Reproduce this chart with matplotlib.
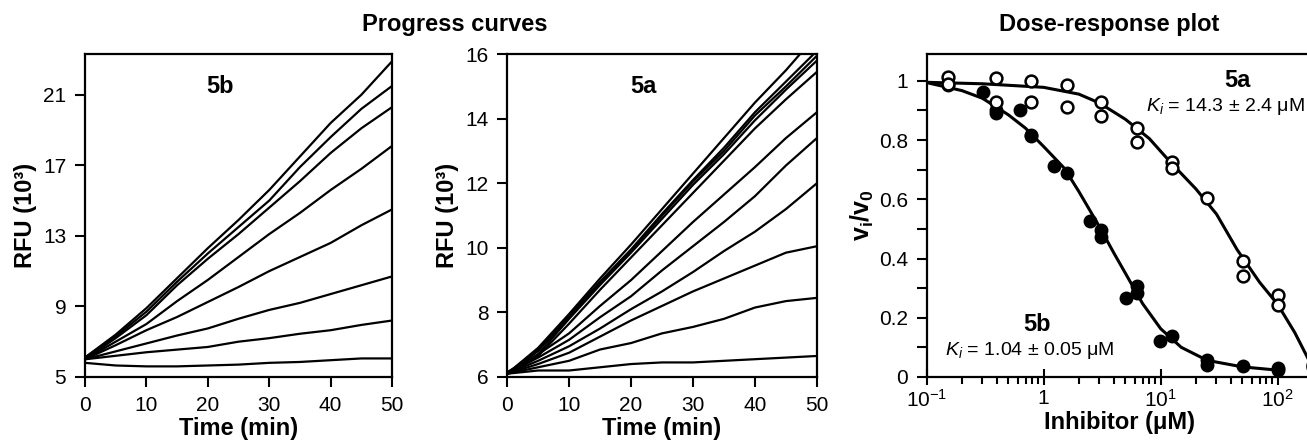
import matplotlib
matplotlib.use("Agg")
import matplotlib.pyplot as plt
from matplotlib.ticker import FixedLocator, FixedFormatter, MultipleLocator, LogLocator, NullFormatter

plt.rcParams['font.family'] = 'Liberation Sans'
plt.rcParams['mathtext.fontset'] = 'custom'
plt.rcParams['mathtext.rm'] = 'Liberation Sans'
plt.rcParams['mathtext.it'] = 'Liberation Sans:italic'
plt.rcParams['mathtext.bf'] = 'Liberation Sans:bold'

#Progress curves: time points (min)
time_min = [0, 5, 10, 15, 20, 25, 30, 35, 40, 45, 50]

#Compound 5b, RFU (10^3), one list per inhibitor concentration
rfu_5b = [
    [6.1, 7.4, 8.9, 10.6, 12.3, 13.9, 15.6, 17.5, 19.4, 21.0, 22.9],
    [6.1, 7.3, 8.7, 10.4, 12.0, 13.5, 15.0, 16.9, 18.6, 20.2, 21.5],
    [6.0, 7.2, 8.5, 10.2, 11.7, 13.1, 14.6, 16.1, 17.7, 19.1, 20.3],
    [6.0, 7.0, 8.0, 9.3, 10.5, 11.8, 13.1, 14.3, 15.6, 16.8, 18.1],
    [6.0, 6.8, 7.65, 8.4, 9.25, 10.1, 11.0, 11.8, 12.6, 13.6, 14.5],
    [6.0, 6.45, 6.9, 7.35, 7.75, 8.3, 8.8, 9.2, 9.7, 10.2, 10.7],
    [6.0, 6.2, 6.4, 6.55, 6.7, 7.0, 7.2, 7.45, 7.65, 7.95, 8.2],
    [5.8, 5.65, 5.6, 5.6, 5.65, 5.7, 5.8, 5.85, 5.95, 6.05, 6.05],
]

#Compound 5a, RFU (10^3)
rfu_5a = [
    [6.1, 6.9, 7.95, 9.05, 10.1, 11.2, 12.3, 13.4, 14.5, 15.5, 16.6],
    [6.1, 6.85, 7.9, 8.95, 9.95, 11.05, 12.1, 13.1, 14.2, 15.15, 16.1],
    [6.1, 6.8, 7.85, 8.9, 9.9, 11.0, 12.05, 13.0, 14.1, 15.0, 15.95],
    [6.15, 6.7, 7.8, 8.85, 9.85, 10.9, 11.95, 12.9, 13.95, 14.9, 15.8],
    [6.1, 6.65, 7.65, 8.7, 9.7, 10.7, 11.7, 12.7, 13.7, 14.6, 15.45],
    [6.1, 6.7, 7.35, 8.2, 9.0, 9.9, 10.8, 11.65, 12.5, 13.4, 14.2],
    [6.1, 6.6, 7.15, 7.85, 8.5, 9.3, 10.05, 10.8, 11.6, 12.55, 13.4],
    [6.1, 6.5, 6.95, 7.5, 8.1, 8.65, 9.25, 9.9, 10.5, 11.2, 12.0],
    [6.1, 6.4, 6.75, 7.25, 7.75, 8.2, 8.65, 9.05, 9.45, 9.85, 10.05],
    [6.1, 6.3, 6.5, 6.85, 7.05, 7.35, 7.55, 7.8, 8.15, 8.35, 8.45],
    [6.1, 6.2, 6.2, 6.3, 6.4, 6.45, 6.45, 6.5, 6.55, 6.6, 6.65],
]

#Dose-response data (inhibitor in uM, vi/v0)
conc_5a = [0.153, 0.153, 0.393, 0.393, 0.78, 0.78, 1.58, 1.58, 3.12, 3.12, 6.3, 6.3,
           12.4, 12.4, 25.1, 50.1, 50.1, 100, 100, 200, 200]
vi_5a = [1.012, 0.99, 1.009, 0.927, 0.998, 0.928, 0.986, 0.913, 0.927, 0.882, 0.842, 0.793,
         0.727, 0.705, 0.605, 0.392, 0.342, 0.278, 0.242, 0.04, 0.035]
conc_5b = [0.153, 0.306, 0.393, 0.393, 0.63, 0.78, 0.78, 1.23, 1.58, 2.48, 3.12, 3.12,
           5.01, 6.3, 6.3, 9.86, 12.4, 25.1, 25.1, 50.1, 100, 100]
vi_5b = [0.986, 0.961, 0.902, 0.891, 0.902, 0.817, 0.812, 0.714, 0.688, 0.528, 0.496, 0.473,
         0.265, 0.307, 0.282, 0.122, 0.139, 0.056, 0.039, 0.037, 0.030, 0.025]

#Fitted curves
fit_x_5a = [0.1, 0.3, 1, 2, 3, 5, 8, 12, 20, 30, 45, 70, 100, 140, 200]
fit_y_5a = [0.995, 0.99, 0.978, 0.955, 0.925, 0.87, 0.805, 0.727, 0.635, 0.55, 0.43, 0.32, 0.245, 0.15, 0.03]
fit_x_5b = [0.1, 0.2, 0.3, 0.5, 0.7, 1, 1.5, 2, 3, 4, 5, 7, 10, 15, 25, 50, 100]
fit_y_5b = [0.994, 0.967, 0.941, 0.885, 0.84, 0.778, 0.705, 0.626, 0.507, 0.417, 0.35, 0.248,
            0.163, 0.1, 0.056, 0.034, 0.023]

log_ticks = [0.1, 1, 10, 100]
log_tick_labels = ['$10^{-1}$', '1', '$10^{1}$', '$10^{2}$']

fig = plt.figure(figsize=(13.07, 4.44), dpi=100)

def style_axes(ax):
    for s in ax.spines.values():
        s.set_linewidth(1.6)
    ax.tick_params(direction='out', length=7.5, width=1.5, labelsize=15, pad=6)

#Panel 1: 5b progress curves
ax1 = fig.add_axes([0.065, 0.151, 0.235, 0.727])
for y in rfu_5b:
    ax1.plot(time_min, y, color='black', lw=1.6)
ax1.set_xlim(0, 50)
ax1.set_ylim(5, 23.3)
ax1.set_xticks([0, 10, 20, 30, 40, 50])
ax1.set_yticks([5, 9, 13, 17, 21])
ax1.set_xlabel("Time (min)", fontsize=17, fontweight='bold', labelpad=2)
ax1.set_ylabel("RFU (10³)", fontsize=17, fontweight='bold', labelpad=4)
ax1.text(0.44, 0.90, "5b", transform=ax1.transAxes, fontsize=17, fontweight='bold', ha='center', va='center')
style_axes(ax1)

#Panel 2: 5a progress curves
ax2 = fig.add_axes([0.388, 0.151, 0.237, 0.727])
for y in rfu_5a:
    ax2.plot(time_min, y, color='black', lw=1.6)
ax2.set_xlim(0, 50)
ax2.set_ylim(6, 16)
ax2.set_xticks([0, 10, 20, 30, 40, 50])
ax2.set_yticks([6, 8, 10, 12, 14, 16])
ax2.set_xlabel("Time (min)", fontsize=17, fontweight='bold', labelpad=2)
ax2.set_ylabel("RFU (10³)", fontsize=17, fontweight='bold', labelpad=4)
ax2.text(0.44, 0.90, "5a", transform=ax2.transAxes, fontsize=17, fontweight='bold', ha='center', va='center')
style_axes(ax2)

#Panel 3: dose-response
ax3 = fig.add_axes([0.709, 0.151, 0.2955, 0.727])
ax3.plot(fit_x_5a, fit_y_5a, color='black', lw=2.2)
ax3.plot(fit_x_5b, fit_y_5b, color='black', lw=2.2)
ax3.plot(conc_5b, vi_5b, 'o', color='black', ms=8.5, mec='black', mew=1.5)
ax3.plot(conc_5a, vi_5a, 'o', color='black', ms=8.5, mfc='white', mec='black', mew=1.8)
ax3.set_xscale('log')
ax3.set_xlim(0.1, 200)
ax3.set_ylim(0, 1.09)
ax3.xaxis.set_major_locator(FixedLocator(log_ticks))
ax3.xaxis.set_major_formatter(FixedFormatter(log_tick_labels))
ax3.xaxis.set_minor_locator(LogLocator(base=10, subs=range(2, 10)))
ax3.xaxis.set_minor_formatter(NullFormatter())
ax3.set_yticks([0, 0.2, 0.4, 0.6, 0.8, 1])
ax3.set_yticklabels(['0', '0.2', '0.4', '0.6', '0.8', '1'])
ax3.yaxis.set_minor_locator(MultipleLocator(0.1))
style_axes(ax3)
ax3.spines['right'].set_visible(False)
ax3.tick_params(axis='x', which='major', direction='inout', length=11, pad=3)
ax3.tick_params(axis='x', which='minor', direction='out', length=5, width=1.5)
ax3.tick_params(axis='y', which='minor', direction='out', length=7.5, width=1.5)
ax3.set_xlabel("Inhibitor (μM)", fontsize=17, fontweight='bold', labelpad=0)
ax3.set_ylabel(r'$\mathbf{v_i/v_0}$', fontsize=18, labelpad=2)
ax3.text(45, 1.0, "5a", fontsize=17, fontweight='bold', ha='center', va='center')
ax3.text(36, 0.912, r'$K_i$ = 14.3 ± 2.4 μM', fontsize=14, ha='center', va='center')
ax3.text(0.87, 0.178, "5b", fontsize=17, fontweight='bold', ha='center', va='center')
ax3.text(0.76, 0.09, r'$K_i$ = 1.04 ± 0.05 μM', fontsize=14, ha='center', va='center')

fig.text(0.348, 0.944, "Progress curves", fontsize=17, fontweight='bold', ha='center', va='center')
fig.text(0.849, 0.944, "Dose-response plot", fontsize=17, fontweight='bold', ha='center', va='center')

fig.savefig("out.png", dpi=100)
